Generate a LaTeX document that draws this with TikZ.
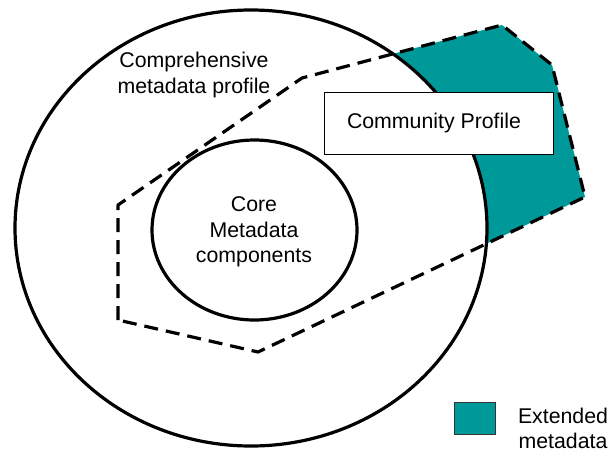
\documentclass[tikz,border=0pt]{standalone}
\usepackage{fontspec}
\setmainfont{Liberation Sans}
\usetikzlibrary{shapes.geometric}
\definecolor{tealfill}{RGB}{0,153,153}
\begin{document}
\begin{tikzpicture}[x=1pt,y=-1pt,
  ring/.style={line width=3.2pt},
  dashline/.style={line width=3.2pt, dash pattern=on 14pt off 8pt, line join=round},
  lbl/.style={font=\fontsize{21.3}{25.5}\selectfont, align=center, inner sep=0pt},
  profilebox/.style={draw=black, line width=1pt, fill=white, minimum width=229pt, minimum height=62pt, font=\fontsize{21.3}{25.5}\selectfont, inner sep=0pt},
  legendbox/.style={draw=black!80, line width=0.8pt, fill=tealfill, minimum width=41pt, minimum height=32pt, inner sep=0pt},
]
\useasboundingbox (0,0) rectangle (613,453);
% dashed profile polygon vertices
\coordinate (p1) at (118,205);
\coordinate (p2) at (302,78);
\coordinate (p3) at (502,25);
\coordinate (p4) at (552,65);
\coordinate (p5) at (585,197);
\coordinate (p6) at (258,352);
\coordinate (p7) at (118,320);
% teal part outside the outer circle
\begin{scope}
  \clip (p1) -- (p2) -- (p3) -- (p4) -- (p5) -- (p6) -- (p7) -- cycle;
  \fill[tealfill, even odd rule] (0,0) rectangle (613,453) (251,228) ellipse [x radius=236, y radius=218];
\end{scope}
% circles
\draw[ring] (251,228) ellipse [x radius=236, y radius=218];
\draw[ring] (254.5,230) ellipse [x radius=102.5, y radius=90];
% dashed polygon
\draw[dashline] (p7) -- (p1) -- (p2) -- (p3) -- (p4) -- (p5) -- (p6) -- cycle;
% labels
\node[lbl] (comp) at (194,75) {Comprehensive\\metadata profile};
\node[lbl] (core) at (254,232) {Core\\Metadata\\components};
\node[profilebox] (community) at (438.5,123) {\hspace*{-9pt}Community Profile};
% legend
\node[legendbox] (legsq) at (474.5,418) {};
\node[lbl, anchor=south] (legtxt) at (563,449) {Extended\\metadata};
\end{tikzpicture}
\end{document}
